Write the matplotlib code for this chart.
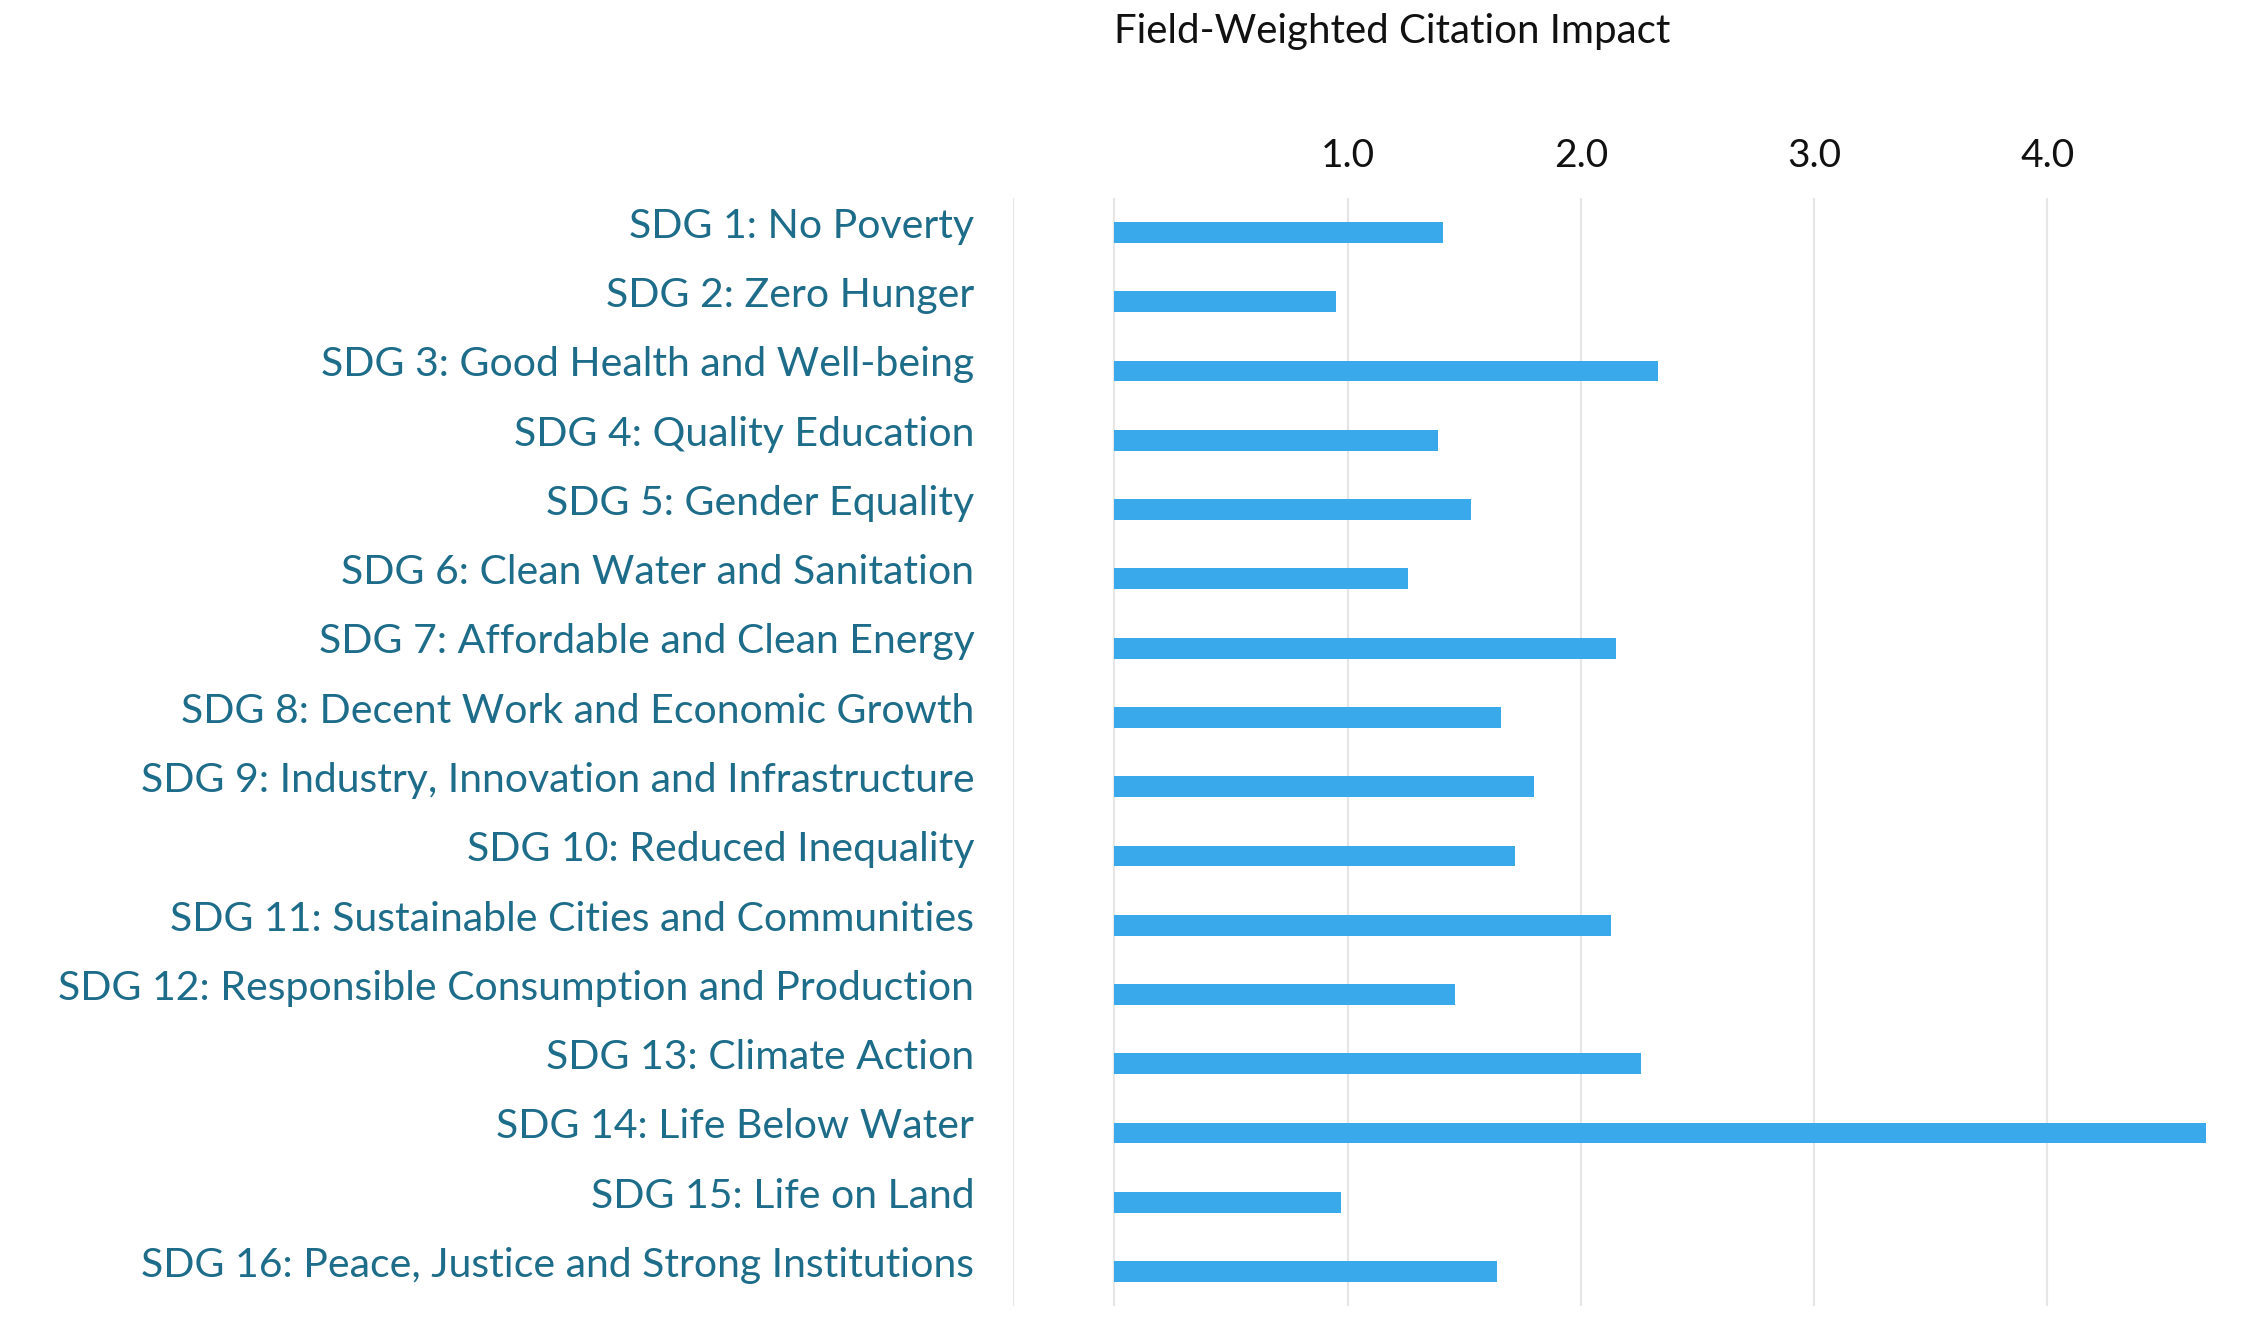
import matplotlib
matplotlib.use('Agg')
import matplotlib.pyplot as plt
import matplotlib.transforms as mtransforms
import numpy as np

plt.rcParams['font.family'] = ['Lato', 'DejaVu Sans']

# SDG goals and their field-weighted citation impact
goals = [
    "SDG 1: No Poverty",
    "SDG 2: Zero Hunger",
    "SDG 3: Good Health and Well-being",
    "SDG 4: Quality Education",
    "SDG 5: Gender Equality",
    "SDG 6: Clean Water and Sanitation",
    "SDG 7: Affordable and Clean Energy",
    "SDG 8: Decent Work and Economic Growth",
    "SDG 9: Industry, Innovation and Infrastructure",
    "SDG 10: Reduced Inequality",
    "SDG 11: Sustainable Cities and Communities",
    "SDG 12: Responsible Consumption and Production",
    "SDG 13: Climate Action",
    "SDG 14: Life Below Water",
    "SDG 15: Life on Land",
    "SDG 16: Peace, Justice and Strong Institutions",
]
fwci = [1.41, 0.95, 2.33, 1.39, 1.53, 1.26, 2.15, 1.66, 1.80, 1.72, 2.13, 1.46, 2.26, 4.68, 0.97, 1.64]
tick_vals = [1.0, 2.0, 3.0, 4.0]
tick_labels = ["1.0", "2.0", "3.0", "4.0"]

bar_color = '#3aa9ec'
label_color = '#1d6c89'
grid_color = '#e6e6e6'

fig = plt.figure(figsize=(22.63, 13.37), dpi=100)
ax = fig.add_axes([0.4477, 0.023, 0.979 - 0.4477, 0.829])

y = np.arange(len(goals))
ax.barh(y, fwci, height=0.3, color=bar_color, zorder=3)

ax.set_xlim(-0.433, 4.72)
ax.set_ylim(len(goals) - 0.5, -0.5)

# grid lines incl. the zero line and the left edge line
for v in [-0.433, 0.0] + tick_vals:
    ax.axvline(v, color=grid_color, linewidth=1.6, zorder=1)

ax.xaxis.tick_top()
ax.set_xticks(tick_vals)
ax.set_xticklabels(tick_labels, fontsize=28, color='#111111')
ax.tick_params(axis='x', length=0, pad=17)

ax.set_yticks(y)
ax.set_yticklabels(goals, fontsize=29.5, color=label_color)
ax.tick_params(axis='y', length=0, pad=28)
offset = mtransforms.ScaledTranslation(0, 7 / 72, fig.dpi_scale_trans)
for lbl in ax.get_yticklabels():
    lbl.set_transform(lbl.get_transform() + offset)

for s in ax.spines.values():
    s.set_visible(False)

trans = mtransforms.blended_transform_factory(ax.transData, fig.transFigure)
ax.text(0.0, 1 - 32 / 1337, "Field-Weighted Citation Impact", transform=trans,
        ha='left', va='center', fontsize=29, color='#111111')

fig.savefig('out.png', dpi=100)
